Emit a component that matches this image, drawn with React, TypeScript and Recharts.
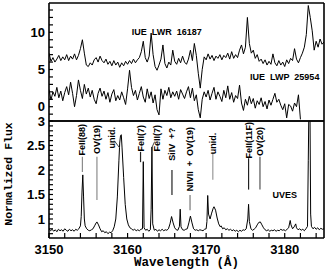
import React from "react";
import { LineChart, Line, XAxis, YAxis, ReferenceLine, ReferenceDot } from "recharts";

// IUE spectra on a 0.25 A grid starting at 3150 A
const iueStart = 3150;
const iueStep = 0.25;
const lwr = [
  7.2, 6.1, 6.6, 6.0, 6.4, 6.9, 6.2, 6.7, 6.3, 7.0, 6.2, 6.8, 6.4, 7.1, 6.3, 6.9,
  7.8, 9.0, 7.2, 5.6,
  5.4, 5.9, 5.6, 6.3, 6.6, 6.0, 6.8, 6.2,
  5.9, 6.4, 5.7, 6.1, 5.5, 6.2, 5.6, 6.0,
  5.3, 5.9, 5.5, 6.1, 5.7, 6.2, 5.8, 6.4,
  5.9, 6.3, 6.6, 7.4,
  8.8, 6.6, 6.0, 6.8,
  9.9, 7.0, 5.4, 4.9,
  5.6, 6.4, 8.3, 5.8,
  5.2, 6.0, 5.6, 7.6,
  6.1, 5.7, 6.5, 5.9,
  6.8, 6.0, 5.7, 6.4,
  7.6, 6.2, 8.5, 6.9,
  4.5, 2.5, 5.0, 6.7,
  6.3, 7.1, 6.4, 6.9,
  6.2, 6.8, 6.5, 7.0,
  6.3, 6.9, 6.6, 7.2,
  6.4, 7.4, 6.5, 7.0,
  6.6, 7.6, 8.3, 7.1,
  8.0, 12.0, 8.5, 7.2,
  7.6, 6.5, 7.0, 6.1,
  6.4, 5.8, 6.3, 5.6,
  6.1, 5.7, 7.1, 5.9,
  5.5, 6.2, 5.6, 6.0,
  5.4, 6.3, 5.8, 6.5,
  6.2, 7.8, 6.4, 5.9,
  6.6, 7.2, 8.0, 9.7,
  13.6, 12.0, 10.2, 7.6,
  8.8, 8.0, 9.1, 8.4,
  8.7,
];
const lwp = [
  2.3, 0.9, 2.0, 1.4,
  2.6, 1.2, 2.1, 0.8,
  1.9, 2.7, 1.6, 3.3,
  1.8, 0.0, 1.5, 3.6,
  2.2, 1.1, 3.0, 1.7,
  2.5, 1.3, 2.2, 1.0,
  0.4, 1.8, 2.5, 1.4,
  2.1, 1.0, 1.9, 0.6,
  1.7, 2.3, 0.8, 1.5,
  0.9, 2.0, 1.2, 0.3,
  2.4, 4.9, 2.6, 1.5,
  2.2, 0.9, 1.8, 2.7,
  1.3, 0.6, 2.4, 1.1,
  2.0, 0.5, 1.6, -0.4,
  -1.1, 2.4, 1.0, 2.2,
  1.5, 2.6, 1.2, 2.0,
  1.4, 2.1, 1.0, 2.3,
  1.7, 1.1, 2.0, 2.7,
  1.2, 2.5, 0.8, 1.6,
  -0.4, -1.5, 1.0, 2.0,
  1.3, 2.2, 0.9, 1.8,
  2.6, 1.0, 2.0, 1.4,
  0.7, 2.2, 1.2, 2.8,
  1.0, 1.9, 0.6, 1.5,
  1.1, 2.9, 0.5, -0.5,
  1.0, 0.2, 1.4, 0.4,
  1.1, -0.2, 0.8, 0.3,
  1.2, 0.0, 0.7, -0.3,
  0.9, 0.2, 1.0, 1.8,
  0.6, 1.0, 0.2, -0.4,
  0.4, -1.5, 0.3, 0.1,
  -0.6, 0.5, 0.0, 1.6,
  -1.7,
];

// UVES spectrum
const uvesWave = [
  3150.0, 3150.2, 3150.4, 3150.6, 3150.8, 3151.0, 3151.2, 3151.4, 3151.6, 3151.8,
  3152.0, 3152.2, 3152.4, 3152.6, 3152.8, 3153.0, 3153.2, 3153.4, 3153.6, 3153.8,
  3154.0, 3154.1, 3154.2, 3154.3, 3154.4, 3154.5, 3154.6, 3154.8, 3155.0, 3155.2,
  3155.4, 3155.6, 3155.8, 3156.0, 3156.1, 3156.3, 3156.5, 3156.7, 3156.9, 3157.1,
  3157.3, 3157.5, 3157.7, 3157.9, 3158.1, 3158.3, 3158.5, 3158.7, 3158.9, 3159.0,
  3159.1, 3159.2, 3159.3, 3159.5, 3159.7, 3159.9, 3160.1, 3160.3, 3160.5, 3160.7,
  3160.9, 3161.1, 3161.3, 3161.5, 3161.7, 3161.9, 3162.0, 3162.1, 3162.3, 3162.5,
  3162.7, 3162.9, 3163.0, 3163.1, 3163.2, 3163.4, 3163.6, 3163.8, 3164.0, 3164.2,
  3164.4, 3164.6, 3164.8, 3165.0, 3165.2, 3165.4, 3165.6, 3165.8, 3166.0, 3166.2,
  3166.4, 3166.6, 3166.7, 3166.8, 3167.0, 3167.2, 3167.4, 3167.6, 3167.8, 3168.0,
  3168.2, 3168.4, 3168.6, 3168.8, 3169.0, 3169.2, 3169.4, 3169.6, 3169.8, 3170.0,
  3170.1, 3170.2, 3170.3, 3170.5, 3170.7, 3170.9, 3171.0, 3171.2, 3171.4, 3171.6,
  3171.8, 3171.9, 3172.1, 3172.3, 3172.5, 3172.7, 3172.9, 3173.1, 3173.3, 3173.5,
  3173.7, 3173.9, 3174.1, 3174.3, 3174.5, 3174.7, 3174.9, 3175.1, 3175.3, 3175.4,
  3175.5, 3175.7, 3175.9, 3176.1, 3176.3, 3176.5, 3176.7, 3176.9, 3177.1, 3177.3,
  3177.5, 3177.7, 3177.9, 3178.1, 3178.3, 3178.5, 3178.7, 3178.9, 3179.1, 3179.3,
  3179.5, 3179.7, 3179.9, 3180.1, 3180.3, 3180.5, 3180.7, 3180.8, 3181.0, 3181.2,
  3181.4, 3181.5, 3181.7, 3181.9, 3182.1, 3182.3, 3182.5, 3182.7, 3182.9, 3183.0,
  3183.1, 3183.2, 3183.3, 3183.4, 3183.6, 3183.8, 3184.0, 3184.2, 3184.4, 3184.6,
  3184.8, 3185.0,
];
const uvesFlux = [
  0.80, 0.76, 0.79, 0.75, 0.78, 0.74, 0.79, 0.76, 0.78, 0.75,
  0.80, 0.77, 0.75, 0.79, 0.76, 0.78, 0.75, 0.79, 0.77, 0.80,
  0.86, 1.05, 1.55, 1.90, 1.45, 1.00, 0.86, 0.80, 0.77, 0.76,
  0.78, 0.80, 0.86, 0.92, 0.94, 0.88, 0.80, 0.74, 0.76, 0.72,
  0.74, 0.70, 0.73, 0.72, 0.76, 0.84, 1.00, 1.45, 2.20, 2.55,
  2.70, 2.72, 2.45, 1.85, 1.30, 1.00, 0.88, 0.82, 0.80, 0.77,
  0.79, 0.76, 0.78, 0.76, 0.79, 0.80, 2.17, 0.82, 0.77, 0.79,
  0.75, 0.78, 1.20, 2.47, 0.90, 0.77, 0.79, 0.75, 0.78, 0.76,
  0.79, 0.76, 0.78, 0.77, 0.80, 0.90, 1.05, 0.92, 0.82, 0.78,
  0.77, 0.85, 1.20, 0.84, 0.78, 0.77, 0.79, 0.80, 0.92, 1.06,
  0.92, 0.80, 0.77, 0.78, 0.76, 0.78, 0.77, 0.76, 0.79, 0.80,
  0.95, 1.48, 1.10, 1.00, 1.12, 1.22, 1.25, 1.18, 1.02, 0.90,
  0.84, 0.86, 0.80, 0.82, 0.78, 0.80, 0.77, 0.79, 0.76, 0.78,
  0.75, 0.77, 0.74, 0.77, 0.75, 0.78, 0.77, 0.80, 1.00, 1.30,
  0.95, 0.80, 0.77, 0.79, 0.82, 0.88, 0.93, 0.94, 0.88, 0.82,
  0.78, 0.76, 0.78, 0.75, 0.77, 0.76, 0.78, 0.75, 0.77, 0.76,
  0.79, 0.77, 0.78, 0.76, 0.79, 0.82, 0.97, 0.88, 0.80, 0.84,
  0.90, 0.82, 0.78, 0.80, 0.77, 0.79, 0.76, 0.80, 0.85, 2.20,
  3.60, 3.60, 1.10, 0.85, 0.80, 0.83, 0.79, 0.82, 0.78, 0.81,
  0.79, 0.80,
];

// identified lines
const lineNames = ["FeII(88)", "OV(19)", "unid.", "FeII(7)", "FeII(7)", "SiIV  +?", "NIVII  +  OV(19)", "unid.", "FeII(11F)", "OV(20)"];
const lineWaves = [3154.25, 3156.1, 3158.0, 3161.65, 3163.75, 3165.65, 3167.95, 3170.85, 3175.4, 3176.85];

const xTicks = [3150, 3152, 3154, 3156, 3158, 3160, 3162, 3164, 3166, 3168, 3170, 3172, 3174, 3176, 3178, 3180, 3182, 3184];
const topTicks = [-1, 0, 1, 2, 3, 4, 5, 6, 7, 8, 9, 10, 11, 12, 13];
const botTicks = [0.7, 0.8, 0.9, 1, 1.1, 1.2, 1.3, 1.4, 1.5, 1.6, 1.7, 1.8, 1.9, 2, 2.1, 2.2, 2.3, 2.4, 2.5, 2.6, 2.7, 2.8, 2.9, 3];

const iueRows = lwr.map((v, i) => ({
  w: iueStart + i * iueStep,
  lwr: v,
  lwp: i < lwp.length ? lwp[i] : null,
}));
const uvesRows = uvesWave.map((w, i) => ({ w, flux: uvesFlux[i] }));

// layout of the line ids (text top, segment top/bottom in flux units)
const marks = [
  { top: 2.94, y1: 2.27, y2: 1.96, color: "#8c8c8c" },
  { top: 2.92, y1: 2.27, y2: 1.39, color: "#8c8c8c" },
  { top: 2.88, y1: null, y2: null, color: "#444" },
  { top: 2.92, y1: 2.37, y2: 2.16, color: "#222" },
  { top: 2.92, y1: null, y2: null, color: "#444" },
  { top: 2.86, y1: 2.0, y2: 1.49, color: "#222" },
  { top: 2.88, y1: 1.49, y2: 1.18, color: "#777" },
  { top: 2.76, y1: 2.35, y2: 1.8, color: "#999" },
  { top: 2.98, y1: 2.24, y2: 1.6, color: "#222" },
  { top: 2.88, y1: 2.27, y2: 1.6, color: "#555" },
];

const X_DOMAIN: [number, number] = [3150, 3185];
const TOP_DOMAIN: [number, number] = [-1.92, 13.94];
const BOT_DOMAIN: [number, number] = [0.612, 3];
const axisLine = { stroke: "#000", strokeWidth: 1.6 };
const tickLine = { stroke: "#000", strokeWidth: 1.2 };
const tickFont = { fill: "#000", fontSize: 13, fontWeight: 700, fontFamily: "Liberation Sans, Arial, sans-serif" };
const smallFont = { fontSize: 9, fontWeight: 700, fontFamily: "Liberation Sans, Arial, sans-serif", fill: "#000" };

const flatText = (label: string) => (p: any) => (
  <text x={p.cx} y={p.cy} textAnchor="middle" dominantBaseline="central" style={{ ...smallFont, whiteSpace: "pre" }}>
    {label}
  </text>
);

const upText = (label: string) => (p: any) => (
  <text
    x={p.cx}
    y={p.cy}
    transform={`rotate(-90 ${p.cx} ${p.cy})`}
    textAnchor="end"
    dominantBaseline="central"
    style={{ ...smallFont, whiteSpace: "pre" }}
  >
    {label}
  </text>
);

export default function App() {
  return (
    <div style={{ position: "absolute", left: 0, top: 0, width: 325, height: 274, background: "#fff" }}>
      <style>{".recharts-surface{overflow:visible}"}</style>
      <div style={{ position: "absolute", left: 0, top: 0 }}>
        <LineChart width={325} height={122} data={iueRows} margin={{ top: 2, right: 0, bottom: 0, left: 0 }}>
          <XAxis xAxisId="b" dataKey="w" type="number" domain={X_DOMAIN} allowDataOverflow ticks={xTicks} interval={0}
            height={1} tickSize={-5} tick={false} axisLine={axisLine} tickLine={tickLine} />
          <XAxis xAxisId="t" orientation="top" dataKey="w" type="number" domain={X_DOMAIN} allowDataOverflow ticks={xTicks} interval={0}
            height={1} tickSize={-5} tick={false} axisLine={axisLine} tickLine={tickLine} />
          <YAxis yAxisId="l" type="number" domain={TOP_DOMAIN} allowDataOverflow ticks={topTicks} interval={0} width={49}
            tickSize={-4} tickMargin={8} tick={tickFont} axisLine={axisLine} tickLine={tickLine}
            tickFormatter={(v: number) => (v % 5 === 0 ? String(v) : "")} />
          <YAxis yAxisId="r" orientation="right" type="number" domain={TOP_DOMAIN} allowDataOverflow ticks={topTicks} interval={0} width={1}
            tickSize={-4} tick={false} axisLine={axisLine} tickLine={tickLine} />
          <Line xAxisId="b" yAxisId="l" type="linear" dataKey="lwr" stroke="#000" strokeWidth={1} dot={false} isAnimationActive={false} />
          <Line xAxisId="b" yAxisId="l" type="linear" dataKey="lwp" stroke="#000" strokeWidth={1} dot={false} isAnimationActive={false} />
          <ReferenceDot xAxisId="b" yAxisId="l" x={3165} y={10} shape={flatText("IUE  LWR  16187")} />
          <ReferenceDot xAxisId="b" yAxisId="l" x={3180} y={4} shape={flatText("IUE  LWP  25954")} />
        </LineChart>
      </div>

      <div style={{ position: "absolute", left: 0, top: 120 }}>
        <LineChart width={325} height={154} data={uvesRows} margin={{ top: 0, right: 0, bottom: 0, left: 0 }}>
          <XAxis xAxisId="b" dataKey="w" type="number" domain={X_DOMAIN} allowDataOverflow ticks={xTicks} interval={0}
            height={36} tickSize={-5} tickMargin={12} tick={tickFont} axisLine={axisLine} tickLine={tickLine}
            tickFormatter={(v: number) => (v % 10 === 0 ? String(v) : "")}
            label={{ value: "Wavelength (Å)", position: "insideBottom", offset: 8, style: { fill: "#000", fontSize: 12.5, fontWeight: 700, fontFamily: "Liberation Mono, monospace" } }} />
          <XAxis xAxisId="t" orientation="top" dataKey="w" type="number" domain={X_DOMAIN} allowDataOverflow ticks={xTicks} interval={0}
            height={1} tickSize={-5} tick={false} axisLine={axisLine} tickLine={tickLine} />
          <YAxis yAxisId="l" type="number" domain={BOT_DOMAIN} allowDataOverflow ticks={botTicks} interval={0} width={49}
            tickSize={-4} tickMargin={8} tick={tickFont} axisLine={axisLine} tickLine={tickLine}
            tickFormatter={(v: number) => (Math.abs(v * 2 - Math.round(v * 2)) < 1e-6 ? String(v) : "")}
            label={{
              content: () => (
                <text x={8} y={54} transform="rotate(-90 8 54)" textAnchor="middle" dominantBaseline="central"
                  style={{ fill: "#000", fontSize: 11.5, fontWeight: 700, fontFamily: "Liberation Mono, monospace" }}>
                  Normalized Flux
                </text>
              ),
            }} />
          <YAxis yAxisId="r" orientation="right" type="number" domain={BOT_DOMAIN} allowDataOverflow ticks={botTicks} interval={0} width={1}
            tickSize={-4} tick={false} axisLine={axisLine} tickLine={tickLine} />
          <Line xAxisId="b" yAxisId="l" type="linear" dataKey="flux" stroke="#000" strokeWidth={1} dot={false} isAnimationActive={false} />
          {lineNames.map((name, i) =>
            marks[i].y1 !== null ? (
              <ReferenceLine key={"s" + i} xAxisId="b" yAxisId="l" stroke={marks[i].color} strokeWidth={1.2}
                segment={[{ x: lineWaves[i], y: marks[i].y1 }, { x: lineWaves[i], y: marks[i].y2 }]} />
            ) : null
          )}
          <ReferenceLine xAxisId="b" yAxisId="l" stroke="#444" strokeWidth={1}
            segment={[{ x: 3158.3, y: 2.6 }, { x: 3159.0, y: 2.45 }]} />
          <ReferenceLine xAxisId="b" yAxisId="l" stroke="#444" strokeWidth={1}
            segment={[{ x: 3163.1, y: 2.46 }, { x: 3163.45, y: 2.58 }]} />
          {lineNames.map((name, i) => (
            <ReferenceDot key={"t" + i} xAxisId="b" yAxisId="l" x={lineWaves[i]} y={marks[i].top} shape={upText(name)} />
          ))}
          <ReferenceDot xAxisId="b" yAxisId="l" x={3180} y={1.49} shape={flatText("UVES")} />
        </LineChart>
      </div>
    </div>
  );
}
